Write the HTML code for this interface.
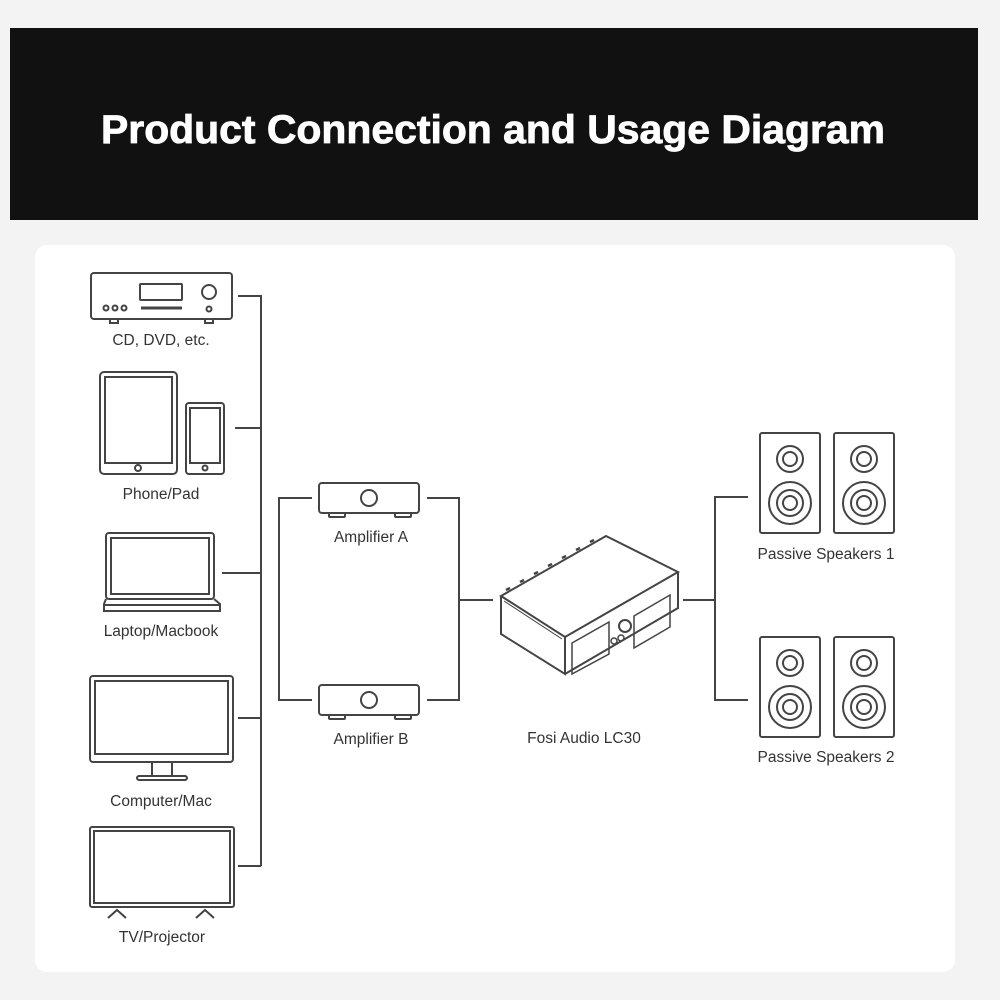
<!DOCTYPE html>
<html><head><style>
html,body{margin:0;padding:0;background:#f3f3f3;}
svg{display:block}
</style></head><body>
<svg width="1000" height="1000" viewBox="0 0 1000 1000" xmlns="http://www.w3.org/2000/svg" font-family="Liberation Sans, sans-serif">
<rect x="0" y="0" width="1000" height="1000" fill="#f3f3f3"/>
<rect x="10" y="28" width="968" height="192" fill="#111"/>
<text x="493" y="143" fill="#fff" font-size="40" font-weight="bold" text-anchor="middle" stroke="#fff" stroke-width="0.8" textLength="784" lengthAdjust="spacingAndGlyphs">Product Connection and Usage Diagram</text>
<rect x="35" y="245" width="920" height="727" rx="12" fill="#fff"/>
<g fill="none" stroke="#444" stroke-width="2">
<path d="M238 296H261V866M235 428H261M222 573H261M238 718H261M238 866H261"/>
<path d="M312 498H279V700H312M427 498H459V700H427M459 600H493"/>
<path d="M683 600H715M748 497H715V700H748"/>
</g>
<g fill="none" stroke="#444" stroke-width="2">
<rect x="91" y="273" width="141" height="46" rx="3"/>
<rect x="140" y="284" width="42" height="16" rx="1"/>
<line x1="141" y1="308" x2="182" y2="308" stroke-width="3"/>
<circle cx="209" cy="292" r="7"/>
<circle cx="209" cy="309" r="2.5"/>
<circle cx="106" cy="308" r="2.5"/><circle cx="115" cy="308" r="2.5"/><circle cx="124" cy="308" r="2.5"/>
<rect x="110" y="319" width="8" height="4"/><rect x="205" y="319" width="8" height="4"/>
<rect x="100" y="372" width="77" height="102" rx="4"/>
<rect x="105" y="377" width="67" height="86"/>
<circle cx="138" cy="468" r="3"/>
<rect x="186" y="403" width="38" height="71" rx="3"/>
<rect x="190" y="408" width="30" height="55"/>
<circle cx="205" cy="468" r="2.5"/>
<rect x="106" y="533" width="108" height="66" rx="3"/>
<rect x="111" y="538" width="98" height="56"/>
<path d="M106 599L104 604V611H220V604L214 599"/>
<line x1="104" y1="605" x2="220" y2="605"/>
<rect x="90" y="676" width="143" height="86" rx="3"/>
<rect x="95" y="681" width="133" height="73"/>
<path d="M152 762V776M172 762V776"/>
<rect x="137" y="776" width="50" height="4" rx="2"/>
<rect x="90" y="827" width="144" height="80" rx="2"/>
<rect x="94" y="831" width="136" height="72"/>
<path d="M108 918L117 910L126 918M196 918L205 910L214 918"/>
<rect x="319" y="483" width="100" height="30" rx="3"/>
<circle cx="369" cy="498" r="8"/>
<rect x="329" y="513" width="16" height="4" rx="1"/><rect x="395" y="513" width="16" height="4" rx="1"/>
<rect x="319" y="685" width="100" height="30" rx="3"/>
<circle cx="369" cy="700" r="8"/>
<rect x="329" y="715" width="16" height="4" rx="1"/><rect x="395" y="715" width="16" height="4" rx="1"/>
<!-- LC30 -->
<path d="M501 596L606 536L678 572L565 637Z" stroke-width="2"/>
<path d="M501 596V634L565 674V637" />
<path d="M565 674L678 608V572" />
<path d="M504 601L562 639" stroke-width="1"/>
<path d="M572 643L609 622V654L572 674Z" stroke-width="1.5"/>
<path d="M634 616L670 595V627L634 648Z" stroke-width="1.5"/>
<circle cx="625" cy="626" r="6"/>
<circle cx="614" cy="641" r="3" stroke-width="1.5"/>
<circle cx="621" cy="638" r="3" stroke-width="1.5"/>
<path d="M506 590L510 588M520 582L524 580M534 574L538 572M548 566L552 564M562 558L566 556M576 550L580 548M590 542L594 540" stroke-width="2.5"/>
</g>
<g fill="none" stroke="#444" stroke-width="2">
<g id="sp">
<rect x="760" y="433" width="60" height="100" rx="2"/>
<circle cx="790" cy="459" r="13"/><circle cx="790" cy="459" r="7"/>
<circle cx="790" cy="503" r="21"/><circle cx="790" cy="503" r="13"/><circle cx="790" cy="503" r="7"/>
</g>
<use href="#sp" x="74"/>
<use href="#sp" y="204"/>
<use href="#sp" x="74" y="204"/>
</g>
<g fill="#333" font-size="15.5" text-anchor="middle">
<text x="161" y="345">CD, DVD, etc.</text>
<text x="161" y="499">Phone/Pad</text>
<text x="161" y="636">Laptop/Macbook</text>
<text x="161" y="806">Computer/Mac</text>
<text x="162" y="942">TV/Projector</text>
<text x="371" y="542">Amplifier A</text>
<text x="371" y="744">Amplifier B</text>
<text x="584" y="743">Fosi Audio LC30</text>
<text x="826" y="559">Passive Speakers 1</text>
<text x="826" y="762">Passive Speakers 2</text>
</g>
</svg>
</body></html>
